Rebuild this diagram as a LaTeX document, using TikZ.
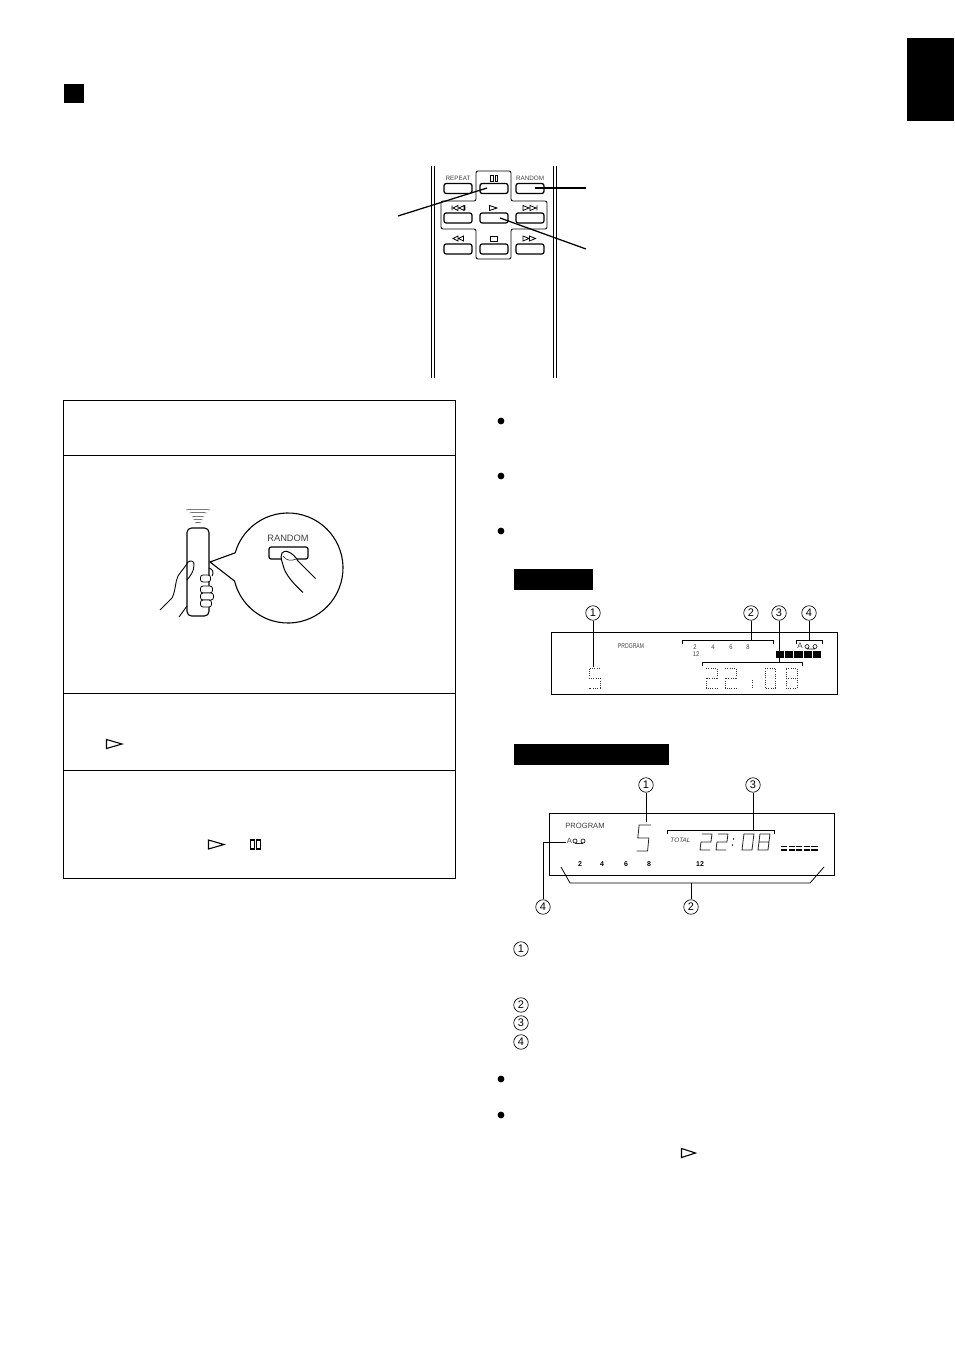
\documentclass[tikz,border=0pt]{standalone}
\usepackage{fontspec}
\setmainfont{Liberation Sans}
\usetikzlibrary{calc}
\tikzset{
 ln/.style={line width=.95pt,black},
 lead/.style={line width=1.25pt,black},
 thin line/.style={line width=.8pt,black},
 btn/.style={draw,line width=1.25pt,rounded corners=2.2pt,minimum width=28pt,minimum height=10pt,inner sep=0pt,fill=white},
 num/.style={circle,draw,line width=.65pt,minimum size=14.5pt,inner sep=0pt,font=\fontsize{11}{11}\selectfont},
 lab/.style={inner sep=0pt,text=black!75},
 icon/.style={line width=.8pt,black},
 dseg/.style={line width=1pt,black!80,dash pattern=on 1pt off 1.3pt},
 sseg/.style={line width=.8pt,black!85},
 lobe/.style={draw,line width=.8pt,fill=white,rounded corners=2.5pt},
}
\newcommand\dfive[1]{\draw[#1] (10,0)--(0,0)--(0,8)--(10,8)--(10,16)--(0,16);}
\newcommand\dtwo[1]{\draw[#1] (0,0)--(10,0)--(10,8)--(0,8)--(0,16)--(10,16);}
\newcommand\dzero[1]{\draw[#1] (0,0)--(10,0)--(10,16)--(0,16)--cycle;}
\newcommand\deight[1]{\draw[#1] (0,0)--(10,0)--(10,16)--(0,16)--cycle (0,8)--(10,8);}
\newcommand\tape[2]{\draw[line width=.7pt,black!85] (#1,#2) circle (2pt) ++(8,0) circle (2pt) (#1,#2+2.4)--(#1+8,#2+2.4);}
\begin{document}
\begin{tikzpicture}[x=1pt,y=-1pt]
\useasboundingbox (0,0) rectangle (954,1348);
\fill[white] (0,0) rectangle (954,1348);
% header marks
\fill (907,38) rectangle (954,121);
\fill (64,84) rectangle (84,103);
% remote rails
\foreach \x in {431,434,553,556.5} \draw[line width=1pt] (\x,166)--(\x,378);
% cross outline
\draw[thin line,rounded corners=2pt] (476,171)--(511,171)--(511,201)--(547,201)--(547,229)--(511,229)--(511,259)--(476,259)--(476,229)--(441,229)--(441,201)--(476,201)--cycle;
% buttons
\node[btn] (repeat) at (458,188.5) {};
\node[btn] (pause) at (494,188.5) {};
\node[btn] (random) at (530,188.5) {};
\node[btn] (prev) at (458,218) {};
\node[btn] (play) at (494,218) {};
\node[btn] (next) at (530,218) {};
\node[btn] (rew) at (458,249) {};
\node[btn] (stop) at (494,249) {};
\node[btn] (ffw) at (530,249) {};
\node[lab,font=\fontsize{6.3}{7}\selectfont] (lrepeat) at (458,178.5) {REPEAT};
\node[lab,font=\fontsize{6.3}{7}\selectfont] (lrandom) at (530,178.5) {RANDOM};
% button icons
\draw[icon] (490.5,175.5) rectangle (493,181) (495,175.5) rectangle (497.5,181);
\draw[icon] (452,205.5)--(452,210.5) (458,205.5)--(453,208)--(458,210.5)--cycle (464,205.5)--(459,208)--(464,210.5)--cycle (465,205.5)--(465,210.5);
\draw[icon] (489.5,205.5)--(497,208)--(489.5,210.5)--cycle;
\draw[icon] (523,205.5)--(529,208)--(523,210.5)--cycle (530,205.5)--(536,208)--(530,210.5)--cycle (537,205.5)--(537,210.5);
\draw[icon] (458,236)--(453,238.5)--(458,241)--cycle (463.5,236)--(458.5,238.5)--(463.5,241)--cycle;
\draw[icon] (490,236.5) rectangle (497.5,241);
\draw[icon] (523,236)--(529,238.5)--(523,241)--cycle (529.5,236)--(535.5,238.5)--(529.5,241)--cycle;
% leaders
\coordinate (lp) at (398,216);
\coordinate (lr) at (586,188);
\coordinate (lq) at (586,249);
\draw[lead] (lp)--([shift={(-7,-.5)}]pause.center);
\draw[lead] (lr)--([shift={(5,-.5)}]random.center);
\draw[lead] (lq)--([shift={(6,0)}]play.center);
% main box
\draw[ln] (63.5,400) rectangle (455,878.3);
\draw[ln] (63.5,455)--(455,455) (63.5,693.3)--(455,693.3) (63.5,770)--(455,770);
% signal arcs
\foreach \yy/\w in {510/12,513/8.5,517/6,520/4.5,523/3}
  \draw[line width=.5pt,black!80] (198-\w,\yy) .. controls (198-\w/2,\yy-1) and (198+\w/2,\yy-1) .. (198+\w,\yy);
% remote in hand
\draw[line width=1.1pt,rounded corners=4.5pt,fill=white] (187,528) rectangle (209,616);
% hand
\draw[ln,line width=.9pt] (160,610) -- (172,598) .. controls (176,590) and (175,582) .. (178,576) .. controls (182,570) and (186,566) .. (188,562) .. controls (190,560) and (195,561) .. (194,565) .. controls (194,572) and (190,576) .. (187,580);
\draw[ln,line width=.9pt] (179,617)--(187,606);
\draw[ln,line width=.9pt] (209,568) .. controls (213,569) and (214,573) .. (212,576);
\foreach \yy/\wd in {575/10,586/12,593/13,600/11}
  \draw[lobe] (200.5,\yy) rectangle ++(\wd,7);
% callout
\draw[line width=1.1pt,fill=white] (210,562) -- (235.13,552.84) arc[start angle=196,end angle=526.3,radius=55] -- cycle;
\node[lab,font=\fontsize{9.3}{10}\selectfont] (lbig) at (288,538.5) {RANDOM};
\node[btn,minimum width=39pt,minimum height=12pt] (bigbtn) at (288.5,553) {};
% finger
\draw[line width=1pt,fill=white] (315.5,578.5) -- (298,561) .. controls (293,552) and (284,549) .. (282,553) .. controls (280,558) and (282,561) .. (283,565) .. controls (285,575) and (295,585) .. (303,592.5);
\draw[line width=.5pt] (283,556) .. controls (286,561) and (292,561) .. (296,559);
\fill[white] (316.5,579.2) -- (303.8,593.3) -- (325,600) -- cycle;
% bullets
\foreach \yy in {421,476,531,1079,1115} \fill (501,\yy) circle (3.4pt);
% black labels
\fill (514,569) rectangle (593,590);
\fill (514,744) rectangle (669,765);
% triangles
\draw[line width=1.1pt] (106.5,739.5)--(122,744)--(106.5,748.5)--cycle;
\draw[line width=1.1pt] (208.5,840)--(224,844.5)--(208.5,849)--cycle;
\draw[line width=1.1pt] (250.5,840) rectangle (254.5,849) (256.5,840) rectangle (260.5,849);
\draw[line width=1.1pt] (681.5,1148.5)--(695.5,1153)--(681.5,1157.5)--cycle;
% display 1
\draw[ln] (551.7,632) rectangle (837.7,694);
\node[num] (a1) at (593,613) {1};
\node[num] (a2) at (751,613) {2};
\node[num] (a3) at (779,613) {3};
\node[num] (a4) at (809,613) {4};
\coordinate (a1e) at (593,667);
\coordinate (a2e) at (751,640);
\coordinate (a3e) at (779,662);
\coordinate (a4e) at (809,640);
\draw[thin line] (a1)--(a1e) (a2)--(a2e) (a3)--(a3e) (a4)--(a4e);
\draw[thin line] (682,644)--(682,640)--(773,640)--(773,644);
\draw[thin line] (702,666)--(702,662)--(802,662)--(802,666);
\draw[thin line] (796,644)--(796,640)--(822,640)--(822,644);
\node[lab,font=\fontsize{7}{7}\selectfont,xscale=.72] (p1) at (631,646.5) {PROGRAM};
\foreach \xx/\t in {695/2,713/4,731/6,748/8}
  \node[lab,font=\fontsize{6.8}{7}\selectfont,xscale=.85] (n\t) at (\xx,647) {\t};
\node[lab,font=\fontsize{6.8}{7}\selectfont,xscale=.85] (n12) at (696,654.5) {12};
\foreach \i in {0,...,4} \fill (776+\i*9.2,651) rectangle ++(8.2,7);
\node[lab,font=\fontsize{8}{8}\selectfont] (aa) at (800,646) {A};
\tape{807}{646.5}
\begin{scope}[shift={(589,668)},xscale=1.1,yscale=1.25]\dfive{dseg}\end{scope}
\begin{scope}[shift={(706,668)},xscale=1.1,yscale=1.25]\dtwo{dseg}\end{scope}
\begin{scope}[shift={(725,668)},xscale=1.1,yscale=1.25]\dtwo{dseg}\end{scope}
\draw[dseg] (752,680)--(752,687);
\begin{scope}[shift={(765,668)},xscale=1.05,yscale=1.25]\dzero{dseg}\end{scope}
\begin{scope}[shift={(786,668)},xscale=1.1,yscale=1.25]\deight{dseg}\end{scope}
% display 2
\draw[ln] (549,813) rectangle (834,875);
\node[num] (b1) at (646,785) {1};
\node[num] (b3) at (753,785) {3};
\node[num] (b4) at (543,907) {4};
\node[num] (b2) at (691,907) {2};
\coordinate (b1e) at (646,822);
\coordinate (b3e) at (753,830);
\coordinate (b4c) at (543,842);
\coordinate (b4e) at (566,842);
\coordinate (b2e) at (691,883);
\draw[thin line] (b1)--(b1e) (b3)--(b3e) (b4)--(b4c)--(b4e) (b2)--(b2e);
\draw[thin line] (667,834)--(667,830)--(774,830)--(774,834);
\draw[thin line] (561,867)--(570,883)--(810,883)--(824,867);
\node[lab,font=\fontsize{7.6}{8}\selectfont] (p2) at (585,825.5) {PROGRAM};
\node[lab,font=\fontsize{7.6}{8}\selectfont] (a2l) at (569.5,841) {A};
\tape{575}{841}
\node[lab,font=\itshape\fontsize{6.4}{7}\selectfont] (tot) at (680.5,840.5) {TOTAL};
\foreach \xx/\t in {580/2,602/4,626/6,649/8,700/12}
  \node[inner sep=0pt,font=\fontsize{7}{8}\selectfont\bfseries] (m\t) at (\xx,864) {\t};
\begin{scope}[shift={(636.5,825)},xscale=1.3,yscale=1.62]\draw[sseg] (11,0)--(2,0)--(1,8)--(9.5,8)--(8.5,16)--(0,16);\end{scope}
\begin{scope}[shift={(700,850)},xslant=.12]\begin{scope}[shift={(0,-16)}]\dtwo{sseg}\end{scope}\end{scope}
\begin{scope}[shift={(716,850)},xslant=.12]\begin{scope}[shift={(0,-16)}]\dtwo{sseg}\end{scope}\end{scope}
\fill[black!80] (733.5,839) circle (.8pt) (732.5,845) circle (.8pt);
\begin{scope}[shift={(742,850)},xslant=.12]\begin{scope}[shift={(0,-16)}]\dzero{sseg}\end{scope}\end{scope}
\begin{scope}[shift={(758,850)},xslant=.12]\begin{scope}[shift={(0,-16)}]\deight{sseg}\end{scope}\end{scope}
\foreach \i in {0,...,4} {
  \fill (781+\i*7.6,845.5) rectangle ++(6.2,1.8);
  \fill (781+\i*7.6,849.3) rectangle ++(6.2,1.6);
}
% notes
\node[num] (c1) at (521,949) {1};
\node[num] (c2) at (521,1005) {2};
\node[num] (c3) at (521,1023) {3};
\node[num] (c4) at (521,1042) {4};
\end{tikzpicture}
\end{document}
